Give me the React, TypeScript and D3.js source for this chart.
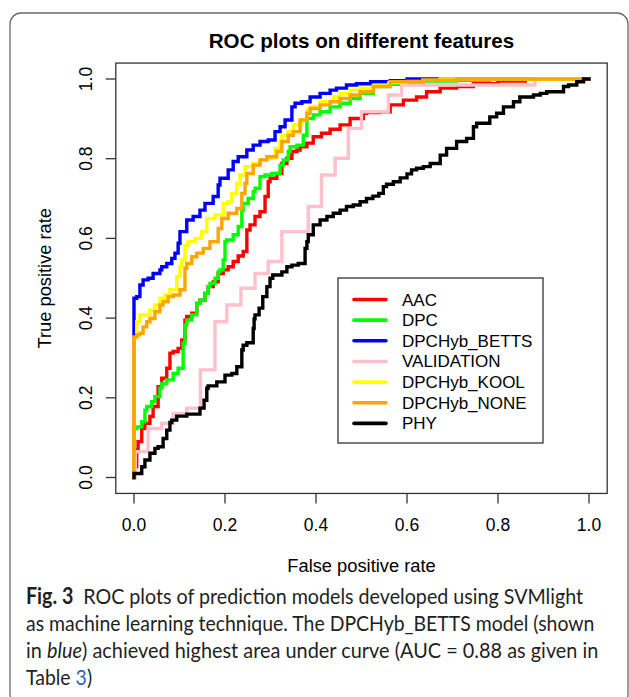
import React, { useLayoutEffect, useRef, useState } from "react";
import * as d3 from "d3";

type Pt = [number, number];

const seriesNames = ["AAC", "DPC", "DPCHyb_BETTS", "VALIDATION", "DPCHyb_KOOL", "DPCHyb_NONE", "PHY"];
const seriesColors = ["#ff0000", "#00ff00", "#0000ff", "#ffc0cb", "#ffff00", "#ffa500", "#000000"];

const aac: Pt[] = [[0,0],[0.006,0.027],[0.009,0.069],[0.017,0.090],[0.024,0.123],[0.035,0.136],[0.042,0.153],[0.053,0.178],[0.061,0.228],[0.072,0.249],[0.079,0.274],[0.086,0.312],[0.097,0.316],[0.105,0.324],[0.112,0.345],[0.116,0.395],[0.127,0.404],[0.138,0.412],[0.145,0.437],[0.156,0.445],[0.163,0.462],[0.174,0.479],[0.185,0.491],[0.196,0.512],[0.207,0.521],[0.218,0.529],[0.229,0.542],[0.240,0.556],[0.248,0.567],[0.255,0.621],[0.266,0.634],[0.277,0.655],[0.288,0.667],[0.295,0.705],[0.299,0.742],[0.314,0.751],[0.325,0.763],[0.336,0.788],[0.347,0.801],[0.358,0.818],[0.365,0.822],[0.380,0.830],[0.394,0.839],[0.412,0.855],[0.431,0.864],[0.453,0.874],[0.475,0.885],[0.504,0.901],[0.511,0.914],[0.540,0.916],[0.563,0.918],[0.592,0.935],[0.621,0.947],[0.643,0.955],[0.673,0.968],[0.709,0.977],[0.746,0.981],[0.800,0.988],[0.860,0.995],[0.920,1.0],[1,1]];

const dpc: Pt[] = [[0,0],[0.006,0.123],[0.017,0.127],[0.024,0.140],[0.028,0.169],[0.039,0.178],[0.046,0.190],[0.057,0.203],[0.061,0.224],[0.072,0.236],[0.086,0.245],[0.097,0.261],[0.108,0.274],[0.112,0.337],[0.116,0.383],[0.127,0.395],[0.138,0.408],[0.145,0.437],[0.156,0.445],[0.163,0.462],[0.167,0.479],[0.178,0.487],[0.185,0.500],[0.189,0.516],[0.196,0.521],[0.200,0.546],[0.204,0.592],[0.218,0.596],[0.229,0.609],[0.237,0.630],[0.240,0.671],[0.251,0.688],[0.262,0.700],[0.266,0.717],[0.277,0.726],[0.288,0.755],[0.303,0.759],[0.321,0.763],[0.328,0.784],[0.339,0.797],[0.343,0.818],[0.358,0.830],[0.372,0.834],[0.380,0.859],[0.394,0.901],[0.409,0.910],[0.431,0.918],[0.453,0.930],[0.475,0.939],[0.497,0.951],[0.526,0.964],[0.563,0.981],[0.636,0.987],[0.709,0.995],[0.782,0.997],[0.914,1.0],[1,1]];

const betts: Pt[] = [[0,0],[0,0.316],[0,0.40],[0.006,0.45],[0.013,0.454],[0.020,0.483],[0.031,0.496],[0.042,0.500],[0.057,0.512],[0.061,0.521],[0.072,0.529],[0.083,0.537],[0.090,0.550],[0.097,0.563],[0.101,0.588],[0.101,0.613],[0.116,0.617],[0.130,0.646],[0.145,0.655],[0.156,0.671],[0.174,0.688],[0.185,0.705],[0.189,0.734],[0.207,0.751],[0.218,0.772],[0.229,0.793],[0.248,0.805],[0.262,0.822],[0.277,0.834],[0.295,0.843],[0.310,0.847],[0.321,0.868],[0.332,0.880],[0.347,0.897],[0.354,0.930],[0.369,0.939],[0.387,0.943],[0.409,0.955],[0.431,0.964],[0.445,0.972],[0.467,0.977],[0.489,0.985],[0.520,0.988],[0.563,0.993],[0.600,0.996],[0.635,1.0],[1,1]];

const validation: Pt[] = [[0,0],[0.003,0],[0.031,0.065],[0.061,0.123],[0.086,0.136],[0.116,0.161],[0.146,0.174],[0.178,0.270],[0.204,0.391],[0.235,0.433],[0.266,0.475],[0.295,0.512],[0.325,0.542],[0.383,0.617],[0.412,0.680],[0.442,0.759],[0.471,0.801],[0.500,0.876],[0.559,0.918],[0.588,0.960],[0.881,0.985],[1,1]];

const kool: Pt[] = [[0,0],[0,0.31],[0.006,0.35],[0.013,0.391],[0.035,0.408],[0.046,0.420],[0.057,0.433],[0.068,0.450],[0.079,0.458],[0.094,0.471],[0.101,0.504],[0.105,0.529],[0.112,0.546],[0.119,0.583],[0.134,0.592],[0.149,0.600],[0.160,0.617],[0.178,0.650],[0.196,0.659],[0.207,0.688],[0.215,0.692],[0.226,0.713],[0.233,0.738],[0.244,0.759],[0.262,0.780],[0.277,0.788],[0.292,0.797],[0.310,0.801],[0.321,0.826],[0.325,0.843],[0.339,0.859],[0.350,0.868],[0.369,0.885],[0.380,0.897],[0.387,0.922],[0.409,0.930],[0.438,0.943],[0.453,0.955],[0.475,0.964],[0.497,0.972],[0.526,0.977],[0.560,0.984],[0.599,0.991],[0.635,0.994],[0.673,0.997],[0.750,1.0],[1,1]];

const none: Pt[] = [[0,0],[0.006,0.353],[0.013,0.358],[0.020,0.362],[0.028,0.378],[0.035,0.391],[0.046,0.399],[0.057,0.416],[0.064,0.433],[0.075,0.441],[0.086,0.454],[0.101,0.458],[0.112,0.471],[0.116,0.525],[0.127,0.537],[0.138,0.554],[0.152,0.563],[0.167,0.575],[0.185,0.592],[0.193,0.625],[0.207,0.650],[0.226,0.663],[0.237,0.675],[0.244,0.713],[0.248,0.738],[0.262,0.763],[0.277,0.784],[0.292,0.797],[0.314,0.805],[0.325,0.818],[0.339,0.843],[0.350,0.859],[0.365,0.868],[0.380,0.897],[0.387,0.914],[0.409,0.926],[0.431,0.935],[0.453,0.943],[0.475,0.951],[0.497,0.960],[0.526,0.968],[0.563,0.981],[0.636,0.993],[0.709,0.997],[0.804,1.0],[1,1]];

const phy: Pt[] = [[0,0],[0.017,0.010],[0.024,0.027],[0.035,0.044],[0.046,0.061],[0.053,0.073],[0.064,0.077],[0.072,0.098],[0.079,0.119],[0.083,0.138],[0.094,0.144],[0.116,0.154],[0.145,0.159],[0.154,0.174],[0.160,0.194],[0.163,0.224],[0.182,0.230],[0.200,0.240],[0.215,0.257],[0.226,0.261],[0.237,0.278],[0.240,0.320],[0.248,0.332],[0.262,0.338],[0.264,0.374],[0.266,0.398],[0.275,0.408],[0.283,0.425],[0.292,0.454],[0.299,0.479],[0.305,0.500],[0.325,0.508],[0.336,0.516],[0.347,0.529],[0.361,0.533],[0.376,0.537],[0.380,0.575],[0.383,0.592],[0.394,0.609],[0.409,0.634],[0.424,0.646],[0.438,0.655],[0.453,0.663],[0.467,0.671],[0.482,0.680],[0.497,0.684],[0.511,0.692],[0.525,0.700],[0.538,0.706],[0.548,0.713],[0.555,0.730],[0.570,0.736],[0.585,0.742],[0.600,0.752],[0.610,0.762],[0.621,0.772],[0.636,0.776],[0.651,0.780],[0.673,0.788],[0.687,0.809],[0.709,0.826],[0.731,0.843],[0.746,0.851],[0.753,0.880],[0.782,0.889],[0.797,0.905],[0.812,0.914],[0.834,0.930],[0.848,0.943],[0.878,0.955],[0.893,0.960],[0.907,0.964],[0.929,0.968],[0.944,0.968],[0.955,0.981],[0.973,0.985],[0.988,0.993],[1,1]];

const seriesData: Pt[][] = [aac, dpc, betts, validation, kool, none, phy];

const xTicks = [0, 0.2, 0.4, 0.6, 0.8, 1.0];
const yTicks = [0, 0.2, 0.4, 0.6, 0.8, 1.0];
const tickLabels = ["0.0", "0.2", "0.4", "0.6", "0.8", "1.0"];

const chartTitle = "ROC plots on different features";
const xTitle = "False positive rate";
const yTitle = "True positive rate";

type Seg = { t: string; b?: boolean; i?: boolean; link?: boolean };
const captionLines: Seg[][] = [
  [{ t: "Fig. 3", b: true }, { t: "\u2002ROC plots of prediction models developed using SVMlight" }],
  [{ t: "as machine learning technique. The DPCHyb_BETTS model (shown" }],
  [{ t: "in " }, { t: "blue", i: true }, { t: ") achieved highest area under curve (AUC = 0.88 as given in" }],
  [{ t: "Table " }, { t: "3", link: true }, { t: ")" }],
];
const captionWidths = [557, 568, 572, 66];

const FONT = "'Liberation Sans', Arial, Helvetica, sans-serif";
const CAP_FONT = "Lato, 'Open Sans', sans-serif";

export default function App() {
  const capRefs = useRef<(SVGTextElement | null)[]>([]);
  const [capScale, setCapScale] = useState<number[]>(captionWidths.map(() => 0.9));

  useLayoutEffect(() => {
    const s = capRefs.current.map((el, i) => {
      if (!el) return 0.9;
      const w = el.getComputedTextLength();
      return w > 0 ? captionWidths[i] / w : 0.9;
    });
    setCapScale(s);
  }, []);

  const x = d3.scaleLinear().domain([0, 1]).range([134, 589]);
  const y = d3.scaleLinear().domain([0, 1]).range([477.5, 79]);
  const x0 = x(-0.04), x1 = x(1.04), y0 = y(-0.04), y1 = y(1.04);
  const line = d3
    .line<Pt>()
    .x((d) => x(d[0]))
    .y((d) => y(d[1]))
    .curve(d3.curveStepBefore);

  const legX = 338, legY = 278, legW = 205, legH = 165;
  const rowY = (i: number) => 299.5 + i * 20.65;
  const capColor = "#231f20";

  return (
    <svg width={629} height={697} style={{ position: "absolute", left: 0, top: 0, background: "#fff" }}>
      <rect x={10} y={13} width={618} height={692} rx={11} ry={11} fill="none" stroke="#6a6a6a" strokeWidth={1.3} />
      <text x={(x0 + x1) / 2} y={48} textAnchor="middle" fontFamily={FONT} fontWeight="bold" fontSize={20.6} fill="#000">
        {chartTitle}
      </text>
      <g>
        {seriesData.map((d, i) => (
          <path key={seriesNames[i]} d={line(d) || ""} fill="none" stroke={seriesColors[i]} strokeWidth={3.4} strokeLinejoin="miter" strokeLinecap="square" />
        ))}
      </g>
      <rect x={x0} y={y1} width={x1 - x0} height={y0 - y1} fill="none" stroke="#333" strokeWidth={1.3} />
      {xTicks.map((t, i) => (
        <g key={"xt" + i}>
          <line x1={x(t)} x2={x(t)} y1={y0} y2={y0 + 10} stroke="#333" strokeWidth={1.3} />
          <text x={x(t)} y={531} textAnchor="middle" fontFamily={FONT} fontSize={17.5} fill="#000">
            {tickLabels[i]}
          </text>
        </g>
      ))}
      {yTicks.map((t, i) => (
        <g key={"yt" + i}>
          <line x1={x0} x2={x0 - 10} y1={y(t)} y2={y(t)} stroke="#333" strokeWidth={1.3} />
          <text transform={`translate(91.5,${y(t)}) rotate(-90)`} textAnchor="middle" fontFamily={FONT} fontSize={17.5} fill="#000">
            {tickLabels[i]}
          </text>
        </g>
      ))}
      <text x={(x0 + x1) / 2} y={572} textAnchor="middle" fontFamily={FONT} fontSize={18.3} fill="#000">
        {xTitle}
      </text>
      <text transform={`translate(51,${(y0 + y1) / 2}) rotate(-90)`} textAnchor="middle" fontFamily={FONT} fontSize={18.3} fill="#000">
        {yTitle}
      </text>
      <rect x={legX} y={legY} width={legW} height={legH} fill="#fff" stroke="#333" strokeWidth={1.3} />
      {seriesNames.map((n, i) => (
        <g key={"lg" + i}>
          <line x1={354} x2={386} y1={rowY(i)} y2={rowY(i)} stroke={seriesColors[i]} strokeWidth={3.6} strokeLinecap="round" />
          <text x={402} y={rowY(i) + 6} fontFamily={FONT} fontSize={17} fill="#000">
            {n}
          </text>
        </g>
      ))}
      <g fontFamily={CAP_FONT} fontSize={22} fill={capColor}>
        {captionLines.map((segs, li) => (
          <text
            key={"cap" + li}
            ref={(el) => {
              capRefs.current[li] = el;
            }}
            transform={`translate(26,${604 + li * 27}) scale(${capScale[li]},1)`}
          >
            {segs.map((s, si) => (
              <tspan
                key={si}
                fontWeight={s.b ? "bold" : undefined}
                fontStyle={s.i ? "italic" : undefined}
                fill={s.link ? "#2b62c4" : undefined}
              >
                {s.t}
              </tspan>
            ))}
          </text>
        ))}
      </g>
    </svg>
  );
}
